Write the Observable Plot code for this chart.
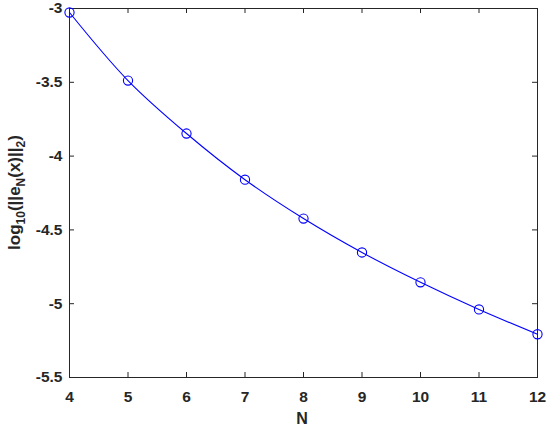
<!DOCTYPE html>
<html><head><meta charset="utf-8">
<script src="https://cdn.jsdelivr.net/npm/d3@7"></script>
<script src="https://cdn.jsdelivr.net/npm/@observablehq/plot@0.6"></script>
<style>body{margin:0;background:#fff}</style>
</head><body><div id="chart"></div>
<script>
const N = [4, 5, 6, 7, 8, 9, 10, 11, 12];
const logErr = [-3.027, -3.488, -3.847, -4.16, -4.423, -4.653, -4.855, -5.039, -5.207];
const xTicks = [4, 5, 6, 7, 8, 9, 10, 11, 12];
const yTicks = [-5.5, -5, -4.5, -4, -3.5, -3];
const data = N.map((n, i) => ({N: n, v: logErr[i]}));
const font = "'Liberation Sans', Arial, Helvetica, sans-serif";
const axisColor = "#262626";
const innerW = 550 - 69 - 13, innerH = 430 - 8 - 53, tick = 5;
const plot = Plot.plot({
  width: 550, height: 430,
  marginLeft: 69, marginRight: 13, marginTop: 8, marginBottom: 53,
  style: {fontFamily: font, fontSize: "15.5px", fontWeight: "bold", color: axisColor, background: "#fff"},
  x: {domain: [4, 12]},
  y: {domain: [-5.5, -3]},
  marks: [
    Plot.axisX({ticks: xTicks, tickSize: 0, tickPadding: 13, tickFormat: d => String(d), label: null}),
    Plot.axisY({ticks: yTicks, tickSize: 0, tickPadding: 7, tickFormat: d => String(d), label: null}),
    Plot.ruleX(xTicks, {x: d => d, insetTop: innerH - tick, stroke: axisColor}),
    Plot.ruleX(xTicks, {x: d => d, insetBottom: innerH - tick, stroke: axisColor}),
    Plot.ruleY(yTicks, {y: d => d, insetRight: innerW - tick, stroke: axisColor}),
    Plot.ruleY(yTicks, {y: d => d, insetLeft: innerW - tick, stroke: axisColor}),
    Plot.frame({stroke: axisColor, strokeWidth: 1}),
    Plot.line(data, {x: "N", y: "v", stroke: "#0000ff", strokeWidth: 1.1, curve: "catmull-rom"}),
    Plot.dot(data, {x: "N", y: "v", r: 4.6, stroke: "#0000ff", strokeWidth: 1.1, fill: "none"})
  ]
});
document.getElementById("chart").appendChild(plot);
const svg = d3.select(plot);
svg.append("text")
  .attr("x", 302).attr("y", 424)
  .attr("text-anchor", "middle")
  .attr("font-family", font).attr("font-size", 16).attr("font-weight", "bold").attr("fill", axisColor)
  .text("N");
const yl = svg.append("text")
  .attr("transform", `translate(20,${(8 + 377) / 2}) rotate(-90)`)
  .attr("text-anchor", "middle")
  .attr("font-family", font).attr("font-size", 17).attr("font-weight", "bold").attr("fill", axisColor);
yl.append("tspan").text("log");
yl.append("tspan").attr("font-size", 12).attr("dy", 5).text("10");
yl.append("tspan").attr("dy", -5).text("(||e");
yl.append("tspan").attr("font-size", 12).attr("dy", 5).text("N");
yl.append("tspan").attr("dy", -5).text("(x)||");
yl.append("tspan").attr("font-size", 12).attr("dy", 5).text("2");
yl.append("tspan").attr("dy", -5).text(")");
</script>
</body></html>
